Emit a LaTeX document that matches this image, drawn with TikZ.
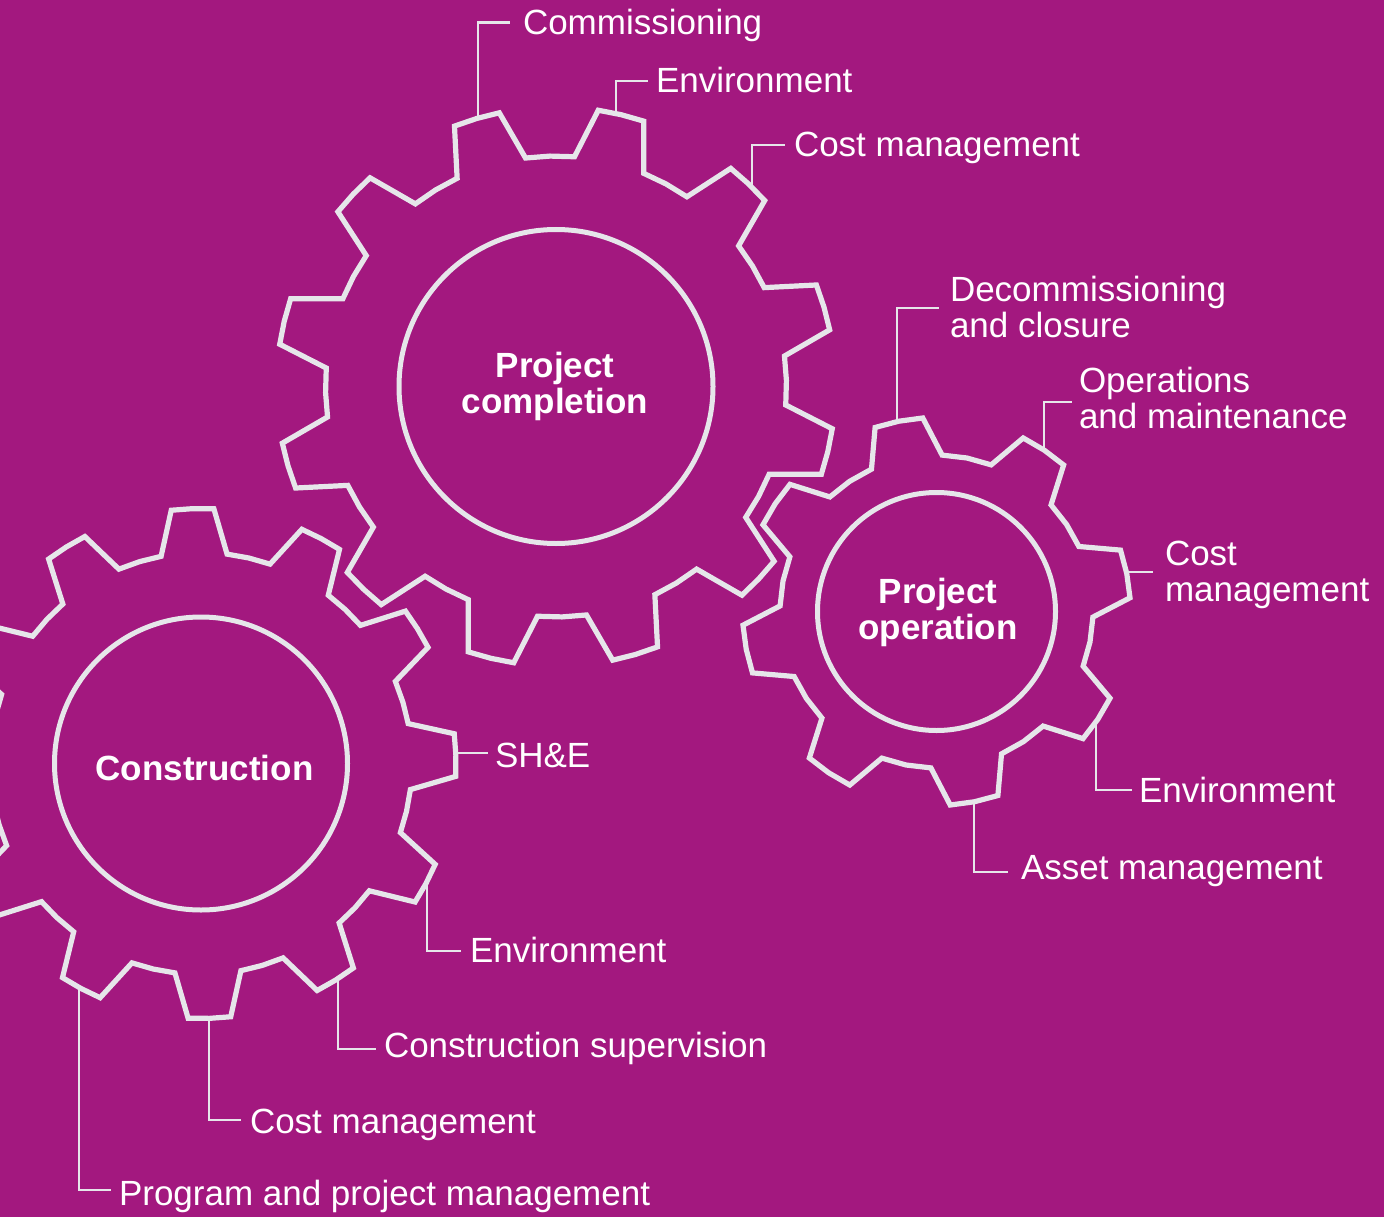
\documentclass[tikz,border=0pt]{standalone}
\usepackage{fontspec}
\setmainfont{Liberation Sans}
\definecolor{bgpurple}{HTML}{A3187F}
\definecolor{gearcol}{HTML}{E6E6EA}
\newcommand\lblfont{\fontsize{35}{36.5}\selectfont}
\newcommand\glblfont{\bfseries\fontsize{35}{36.5}\selectfont}
% #1 centre, #2 teeth, #3 pitch, #4 first tooth angle (image convention), #5 tip radius, #6 root radius, #7 tip half angle, #8 base half angle
\newcommand\drawgear[8]{%
  \begin{scope}[shift={(#1)}]
    \draw[gearline] ({#4-#8}:#6)
      \foreach \k in {1,...,#2}{
        -- ({#4+(\k-1)*#3-#7}:#5)
        -- ({#4+(\k-1)*#3}:#5)
        -- ({#4+(\k-1)*#3+#7}:#5)
        -- ({#4+(\k-1)*#3+#8}:#6)
        -- ({#4+(\k-0.5)*#3}:#6)
        -- ({#4+\k*#3-#8}:#6)
      } -- cycle;
  \end{scope}}
\tikzset{
  gearline/.style={draw=gearcol, line width=5.2pt, line join=miter},
  ring/.style={circle, draw=gearcol, line width=5pt, inner sep=0pt, outer sep=0pt},
  leader/.style={draw=gearcol, line width=2.4pt},
  lbl/.style={text=white, inner sep=0pt, outer sep=0pt, anchor=base west, font=\lblfont},
  glbl/.style={text=white, inner sep=0pt, outer sep=0pt, anchor=base, font=\glblfont},
}
\begin{document}
\begin{tikzpicture}[x=1pt, y=-1pt]
  \useasboundingbox (0,0) rectangle (1384,1217);
  \fill[bgpurple] (0,0) rectangle (1384,1217);
  \clip (0,0) rectangle (1384,1217);

  % gear centres
  \coordinate (cpc) at (556,386.5);
  \coordinate (cpo) at (936.5,611.5);
  \coordinate (ccn) at (201,763.5);

  % gear outlines
  \drawgear{cpc}{12}{30}{-76.5}{279.5}{230.5}{4.8}{8.9}
  \drawgear{cpo}{8}{45}{-11.25}{194}{156.5}{7.2}{13.3}
  \drawgear{ccn}{12}{30}{-1.9}{255}{211}{4.8}{9.0}

  % inner rings
  \node[ring, minimum size=314pt] (rpc) at (cpc) {};
  \node[ring, minimum size=238pt] (rpo) at (cpo) {};
  \node[ring, minimum size=293pt] (rcn) at (ccn) {};

  % gear titles
  \node[glbl] (tpc) at (555,377) {\begin{tabular}[t]{@{}c@{}}Project\\completion\end{tabular}};
  \node[glbl] (tpo) at (938,603) {\begin{tabular}[t]{@{}c@{}}Project\\operation\end{tabular}};
  \node[glbl] (tcn) at (204.5,780) {Construction};

  % labels
  \node[lbl] (l1) at (523,34.5) {Commissioning};
  \node[lbl] (l2) at (656,92.5) {Environment};
  \node[lbl] (l3) at (794,156.5) {Cost management};
  \node[lbl] (l4) at (950,301) {\begin{tabular}[t]{@{}l@{}}Decommissioning\\and closure\end{tabular}};
  \node[lbl] (l5) at (1079,392) {\begin{tabular}[t]{@{}l@{}}Operations\\and maintenance\end{tabular}};
  \node[lbl] (l6) at (1165,565) {\begin{tabular}[t]{@{}l@{}}Cost\\management\end{tabular}};
  \node[lbl] (l7) at (1139,802) {Environment};
  \node[lbl] (l8) at (1021,879) {Asset management};
  \node[lbl] (l9) at (495,767) {SH\&E};
  \node[lbl] (l10) at (470,962) {Environment};
  \node[lbl] (l11) at (384,1057) {Construction supervision};
  \node[lbl] (l12) at (250,1133) {Cost management};
  \node[lbl] (l13) at (119,1205) {Program and project management};

  % leader attachment points and ends
  \coordinate (a1) at (478,118.1);   \coordinate (e1) at (510,22.7);
  \coordinate (a2) at (616,113.5);   \coordinate (e2) at (648,81);
  \coordinate (a3) at (752,187.2);   \coordinate (e3) at (785,145);
  \coordinate (a4) at (897,421.6);   \coordinate (e4) at (939,308);
  \coordinate (a5) at (1044,450);    \coordinate (e5) at (1072,402);
  \coordinate (a6) at (1126.4,572);  \coordinate (e6) at (1153,572);
  \coordinate (a7) at (1096,722);    \coordinate (e7) at (1132,790);
  \coordinate (a8) at (974,802);     \coordinate (e8) at (1008,872);
  \coordinate (a9) at (456,753);     \coordinate (e9) at (488,753);
  \coordinate (a10) at (427,882);    \coordinate (e10) at (461,951);
  \coordinate (a11) at (338,978.6);  \coordinate (e11) at (376,1049);
  \coordinate (a12) at (209,1018.4); \coordinate (e12) at (241,1120);
  \coordinate (a13) at (79,987.4);   \coordinate (e13) at (111,1190);

  \draw[leader] (a1) |- (e1);
  \draw[leader] (a2) |- (e2);
  \draw[leader] (a3) |- (e3);
  \draw[leader] (a4) |- (e4);
  \draw[leader] (a5) |- (e5);
  \draw[leader] (a6) -- (e6);
  \draw[leader] (a7) |- (e7);
  \draw[leader] (a8) |- (e8);
  \draw[leader] (a9) -- (e9);
  \draw[leader] (a10) |- (e10);
  \draw[leader] (a11) |- (e11);
  \draw[leader] (a12) |- (e12);
  \draw[leader] (a13) |- (e13);
\end{tikzpicture}
\end{document}
